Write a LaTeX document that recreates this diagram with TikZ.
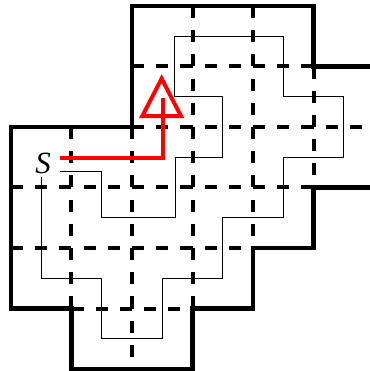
\documentclass[tikz,border=0pt]{standalone}
\usepackage{fontspec}
\setmainfont{Liberation Serif}
\usepackage{tikz}
\usetikzlibrary{positioning}
\tikzset{
  fal/.style={line width=4.3bp,line join=miter},
  racs/.style={line width=4bp,dash pattern=on 12.1bp off 12.1bp},
  ut/.style={line width=0.8bp},
  nyom/.style={red,line width=4bp},
  cimke/.style={inner sep=0pt,font=\fontsize{31}{33}\selectfont\itshape},
}

\begin{document}
\begin{tikzpicture}[x=60.5bp,y=-60.5bp]
  \useasboundingbox (-0.1818,-0.0992) rectangle (5.9339,6.0331);
  % dashed inner grid
  \draw[racs] (2,1) -- (5,1);  \draw[racs] (2,2) -- (5.95,2);
  \draw[racs] (0,3) -- (5,3);  \draw[racs] (0,4) -- (4,4);
  \draw[racs] (1,5) -- (3,5);
  \draw[racs] (1,2) -- (1,5);  \draw[racs] (2,2) -- (2,6);
  \draw[racs] (3,0) -- (3,5);  \draw[racs] (4,0) -- (4,4);
  \draw[racs] (5,1) -- (5,3);
  % outer walls
  \draw[fal] (5.95,1) -- (5,1) -- (5,0) -- (2,0) -- (2,2) -- (0,2) -- (0,5)
    -- (1,5) -- (1,6) -- (3,6) -- (3,5) -- (4,5) -- (4,4) -- (5,4) -- (5,3) -- (5.95,3);
  % thin trail
  \draw[ut] (0.81,2.73) -- (1.5,2.73) -- (1.5,3.5) -- (2.71,3.5) -- (2.71,2.5)
    -- (3.5,2.5) -- (3.5,1.5) -- (2.7,1.5) -- (2.7,0.5) -- (4.5,0.5) -- (4.5,1.5)
    -- (5.5,1.5) -- (5.5,2.5) -- (4.5,2.5) -- (4.5,3.5) -- (3.5,3.5) -- (3.5,4.5)
    -- (2.5,4.5) -- (2.5,5.5) -- (1.5,5.5) -- (1.5,4.5) -- (0.5,4.5) -- (0.5,2.83);
  % red route with open head
  \node[cimke] (start) at (0.53,2.6) {S};
  \coordinate (fej) at (2.51,1.52);
  \draw[nyom] (0.81,2.51) -- (2.51,2.51) -- (fej);
  \draw[nyom,line join=miter] (2.49,1.2) -- (2.81,1.82) -- (2.17,1.82) -- cycle;
\end{tikzpicture}
\end{document}
